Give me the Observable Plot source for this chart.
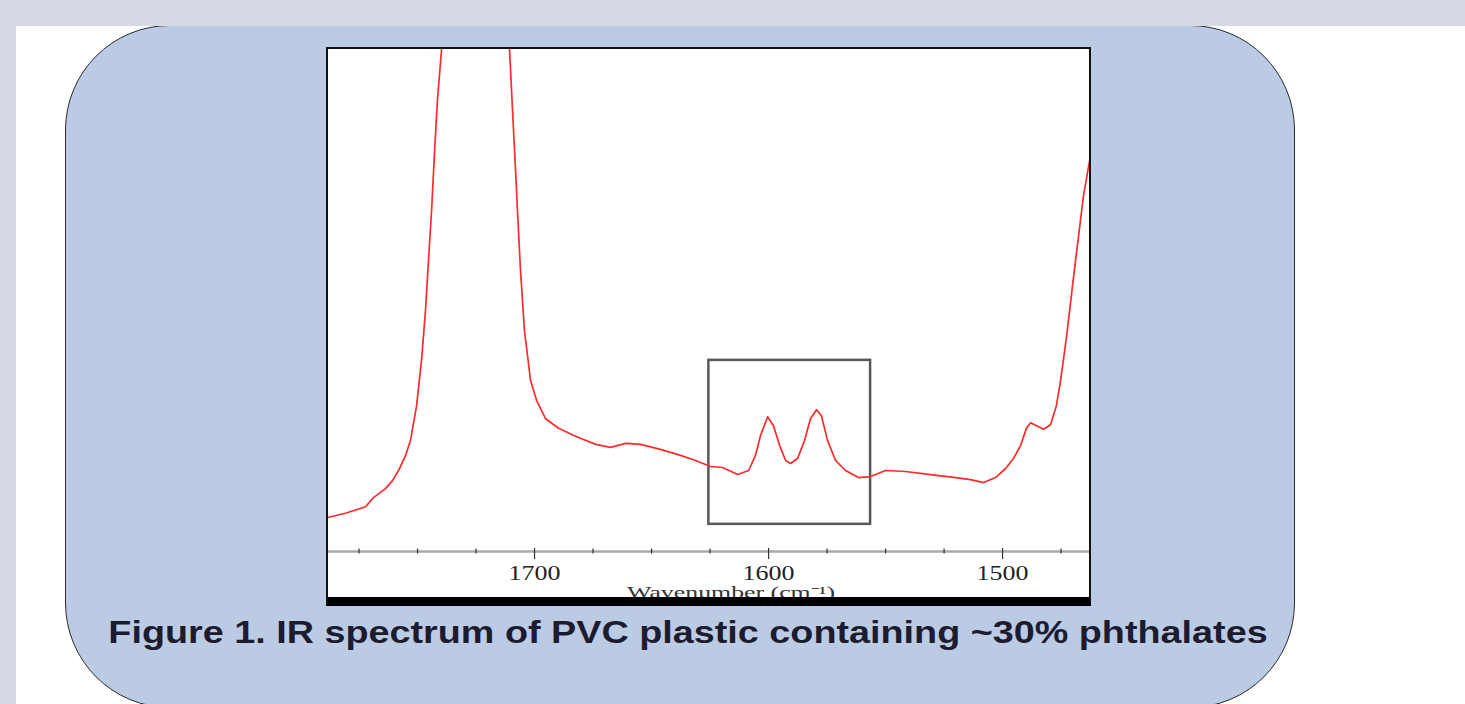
<!DOCTYPE html>
<html>
<head>
<meta charset="utf-8">
<script src="https://cdn.jsdelivr.net/npm/d3@7"></script>
<script src="https://cdn.jsdelivr.net/npm/@observablehq/plot@0.6"></script>
<style>
html,body{margin:0;padding:0;}
body{width:1465px;height:704px;position:relative;overflow:hidden;background:#fff;}
#topband{position:absolute;left:0;top:0;width:1465px;height:26px;background:#D5DAE5;z-index:3}
#leftband{position:absolute;left:0;top:0;width:16px;height:704px;background:#D5DAE5;z-index:3}
#panel{position:absolute;left:65px;top:25px;width:1230px;height:683px;box-sizing:border-box;background:#BCCBE4;border:1.6px solid #2a2a2a;border-radius:105px;}
#chartwrap{position:absolute;left:326px;top:47px;width:765px;height:559px;background:#fff;overflow:hidden}
#chartwrap svg{position:absolute;left:0;top:0}
#frame{position:absolute;left:0;top:0;right:0;bottom:0;border:2px solid #111;border-bottom:9px solid #000;pointer-events:none}
#caption{position:absolute;left:0;width:1376px;top:614px;line-height:32px;text-align:center;font:bold 32px "Liberation Sans",Arial,sans-serif;color:#1c1c30;white-space:nowrap;transform:scaleX(1.18);transform-origin:688px 50%}
</style>
</head>
<body>
<div id="topband"></div>
<div id="leftband"></div>
<div id="panel"></div>
<div id="chartwrap"><div id="frame"></div></div>
<div id="caption">Figure 1. IR spectrum of PVC plastic containing ~30% phthalates</div>
<script>
// Spectrum (wavenumber in cm-1, relative absorbance; >1 is off-scale)
const wavenumber = [1788.9, 1788.0, 1780.8, 1772.2, 1768.8, 1763.7, 1760.7, 1758.1, 1755.1, 1753.0, 1750.4, 1748.3, 1746.6, 1745.3, 1744.0, 1742.7, 1741.5, 1739.7,
  1734, 1726, 1718,
  1710.7, 1709.4, 1708.1, 1707.3, 1706.0, 1704.3, 1701.7, 1699.1, 1695.3, 1689.7, 1682.5, 1673.9, 1667.5, 1661.1, 1654.7, 1646.2, 1637.6, 1631.2, 1624.8, 1619.7, 1613.2,
  1608.5, 1605.6, 1603.4, 1600.4, 1597.9, 1595.3, 1592.7, 1590.6, 1587.6, 1584.6, 1582.1, 1579.5, 1577.4, 1574.8, 1571.4, 1567.1, 1561.5, 1556.4, 1550.0, 1541.5,
  1530.8, 1520.1, 1513.7, 1508.1, 1503.0, 1498.7, 1495.3, 1492.3, 1489.8, 1488.0, 1485.5, 1482.5, 1479.5, 1477.0, 1475.2, 1472.6, 1470.1, 1467.5, 1465.4, 1462.8, 1462.0];
const absorbance = [0.066, 0.068, 0.076, 0.089, 0.107, 0.125, 0.141, 0.161, 0.191, 0.221, 0.290, 0.380, 0.479, 0.579, 0.678, 0.797, 0.897, 1.0,
  1.25, 1.40, 1.25,
  1.0, 0.877, 0.757, 0.678, 0.559, 0.439, 0.340, 0.300, 0.264, 0.245, 0.229, 0.213, 0.207, 0.215, 0.213, 0.203, 0.191, 0.181, 0.169, 0.167, 0.153,
  0.161, 0.191, 0.231, 0.268, 0.250, 0.211, 0.181, 0.175, 0.185, 0.221, 0.264, 0.282, 0.270, 0.221, 0.181, 0.161, 0.147, 0.149, 0.161, 0.159,
  0.153, 0.147, 0.143, 0.137, 0.147, 0.165, 0.185, 0.211, 0.245, 0.256, 0.250, 0.243, 0.252, 0.290, 0.340, 0.429, 0.529, 0.628, 0.708, 0.777, 0.790];

const majorTicks = [1700, 1600, 1500];
const minorTicks = [1775, 1750, 1725, 1675, 1650, 1625, 1575, 1550, 1525, 1475];
const axisTitle = ["Wavenumber (cm\u207B\u00B9)"];
const boxWavenumber = [1625.5, 1556.4];
const boxAbsorbance = [0.054, 0.380];

const spectrum = wavenumber.map((w, i) => ({w, a: absorbance[i]}));
const highlight = [{x1: boxWavenumber[0], x2: boxWavenumber[1], y1: boxAbsorbance[0], y2: boxAbsorbance[1]}];

const chart = Plot.plot({
  width: 765,
  height: 559,
  marginTop: 0, marginRight: 0, marginBottom: 55, marginLeft: 0,
  style: {background: "transparent", overflow: "visible"},
  x: {domain: [1788.9, 1462.0], axis: null},
  y: {domain: [0, 1], range: [504, 1], axis: null},
  marks: [
    Plot.ruleY([0], {stroke: "#a8a8a8", strokeWidth: 2.5}),
    Plot.ruleX(minorTicks, {x: d => d, y1: -0.005, y2: 0.005, stroke: "#333", strokeWidth: 1.2}),
    Plot.ruleX(majorTicks, {x: d => d, y1: -0.016, y2: 0.006, stroke: "#333", strokeWidth: 1.2}),
    Plot.text(majorTicks, {x: d => d, y: 0, dy: 22, text: d => String(d), lineAnchor: "middle", fontSize: 20, fontFamily: "Liberation Serif, serif", fill: "#222"}),
    Plot.text(axisTitle, {x: () => 1616, y: 0, dy: 41, text: d => d, lineAnchor: "middle", fontSize: 16, fontFamily: "Liberation Serif, serif", fill: "#333"}),
    Plot.rect(highlight, {x1: "x1", x2: "x2", y1: "y1", y2: "y2", fill: "none", stroke: "#585858", strokeWidth: 2.5}),
    Plot.line(spectrum, {x: "w", y: "a", stroke: "#ff2b2b", strokeWidth: 1.7, clip: true})
  ]
});
const wrap = document.getElementById("chartwrap");
wrap.insertBefore(chart, document.getElementById("frame"));
const tickStrings = majorTicks.map(String);
d3.select(chart).selectAll("text").each(function() {
  const t = this.textContent;
  if (tickStrings.includes(t)) {
    this.setAttribute("textLength", 52);
    this.setAttribute("lengthAdjust", "spacingAndGlyphs");
  } else if (t === axisTitle[0]) {
    this.setAttribute("textLength", 208);
    this.setAttribute("lengthAdjust", "spacingAndGlyphs");
  }
});
</script>
</body>
</html>
